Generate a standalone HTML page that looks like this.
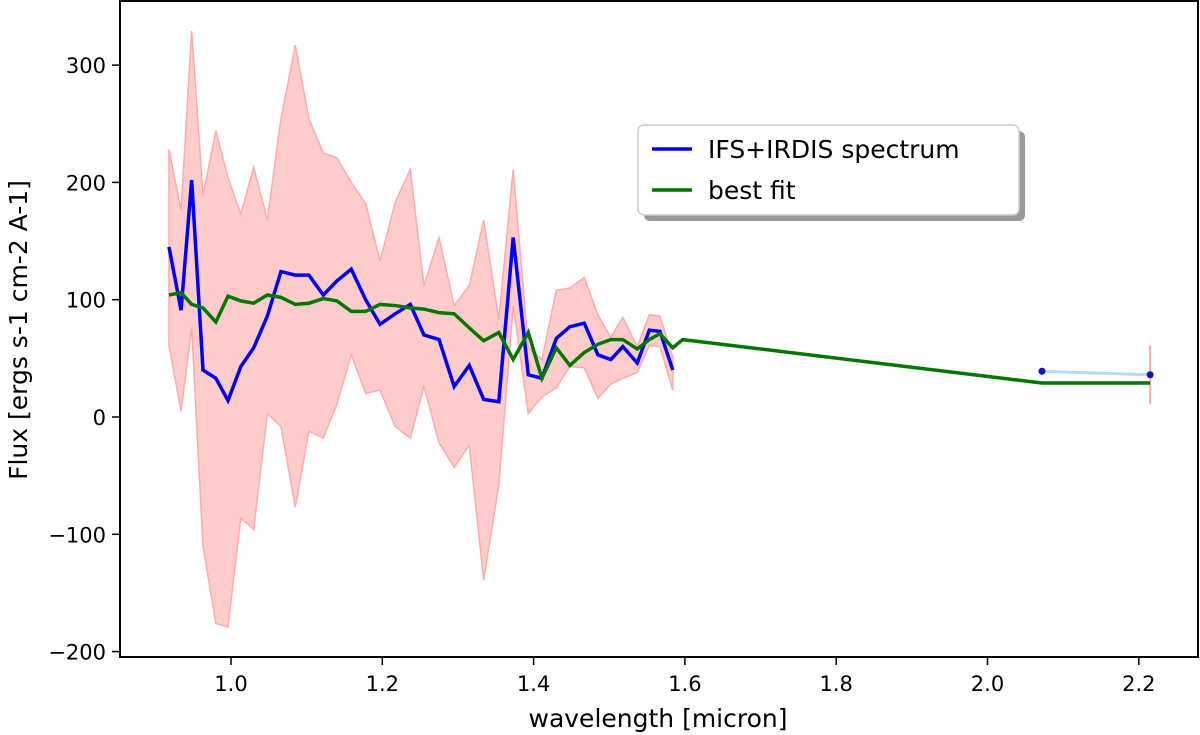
<!DOCTYPE html>
<html><head><meta charset="utf-8"><style>
body{margin:0;background:#fff;}
svg{display:block;font-family:"DejaVu Sans","Liberation Sans",sans-serif;}
</style></head><body>
<svg id="chart" width="1200" height="735"></svg>
<script>
const wavelength=[0.918,0.934,0.948,0.963,0.980,0.996,1.013,1.030,1.048,1.066,1.085,1.103,1.122,1.140,1.159,1.178,1.197,1.217,1.237,1.255,1.275,1.295,1.315,1.334,1.354,1.373,1.393,1.411,1.430,1.448,1.467,1.485,1.502,1.518,1.537,1.553,1.567,1.584];
const fluxObs=[145,91,202,40,33,14,43,59,86,124,121,121,104,116,126,100,79,88,96,70,66,26,44,15,13,153,36,33,67,77,80,53,49,60,46,74,73,40];
const fluxUpper=[228,176,329,189,244,204,173,213,168,254,317,254,225,221,200,182,133,183,211,112,153,95,112,168,83,211,60,49,108,110,119,87,68,85,60,87,86,51];
const fluxLower=[61,5,76,-110,-176,-179,-86,-96,3,-8,-77,-12,-18,11,53,20,23,-8,-18,26,-22,-43,-24,-139,-58,95,3,17,25,43,42,16,28,33,38,61,60,23];
const fitWl=[0.918,0.934,0.948,0.963,0.980,0.996,1.013,1.030,1.048,1.066,1.085,1.103,1.122,1.140,1.159,1.178,1.197,1.217,1.237,1.255,1.275,1.295,1.315,1.334,1.354,1.373,1.393,1.411,1.430,1.448,1.467,1.485,1.502,1.518,1.537,1.553,1.567,1.584,1.597,2.072,2.215];
const fitFlux=[104,106,96,93,81,103,99,97,104,102,96,97,101,99,90,90,96,95,93,92,89,88,76,65,72,49,72,33,59,44,55,62,66,66,58,66,71,59,66,29,29];
const photWl=[2.072,2.215];
const photFlux=[39,36];
const photErr=[3,25];
const xTicks=[1.0,1.2,1.4,1.6,1.8,2.0,2.2];
const yTicks=[-200,-100,0,100,200,300];

const NS="http://www.w3.org/2000/svg";
const svg=document.getElementById('chart');
const X=w=>231+(w-1)*756.5;
const Y=v=>417-v*1.173;
function mk(t,a,txt){const e=document.createElementNS(NS,t);for(const k in a)e.setAttribute(k,a[k]);if(txt!==undefined)e.textContent=txt;svg.appendChild(e);return e;}

// error band
let pts=wavelength.map((w,i)=>X(w)+','+Y(fluxUpper[i]));
for(let i=wavelength.length-1;i>=0;i--)pts.push(X(wavelength[i])+','+Y(fluxLower[i]));
let band=mk('polygon',{points:pts.join(' '),fill:'#ffcccc',stroke:'#ffaaaa','stroke-width':1.5});



// photometry
let pl=mk('polyline',{points:photWl.map((w,i)=>X(w)+','+Y(photFlux[i])).join(' '),fill:'none',stroke:'#bcd8f0','stroke-width':3});


photWl.forEach((w,i)=>{
 let eb=mk('line',{x1:X(w),x2:X(w),y1:Y(photFlux[i]+photErr[i]),y2:Y(photFlux[i]-photErr[i]),stroke:'#ffaaaa','stroke-width':2});
 
 
 let c=mk('circle',{cx:X(w),cy:Y(photFlux[i]),r:3.5,fill:'#1010cc'});
 
 
});

// spectrum
let sp=mk('polyline',{points:wavelength.map((w,i)=>X(w)+','+Y(fluxObs[i])).join(' '),fill:'none',stroke:'#0000ff','stroke-width':3.5,'stroke-linejoin':'miter'});


let fit=mk('polyline',{points:fitWl.map((w,i)=>X(w)+','+Y(fitFlux[i])).join(' '),fill:'none',stroke:'#007700','stroke-width':3.5});



// axes frame
let fr=mk('rect',{x:120,y:1,width:1078,height:656,fill:'none',stroke:'#000','stroke-width':2});


xTicks.forEach(t=>{
 let l=mk('line',{x1:X(t),x2:X(t),y1:657,y2:665,stroke:'#000','stroke-width':1.5});
 
 
 let tx=mk('text',{x:X(t),y:691,'text-anchor':'middle','font-size':21,fill:'#000'},t.toFixed(1));
 
 
});
yTicks.forEach(t=>{
 let l=mk('line',{x1:112,x2:120,y1:Y(t),y2:Y(t),stroke:'#000','stroke-width':1.5});
 
 
 let tx=mk('text',{x:106,y:Y(t)+8,'text-anchor':'end','font-size':21,fill:'#000'},t<0?'\u2212'+(-t):String(t));
 
 
});
let xt=mk('text',{x:658,y:727,'text-anchor':'middle','font-size':25,fill:'#000'},'wavelength [micron]');


let yt=mk('text',{x:0,y:0,'text-anchor':'middle','font-size':25,fill:'#000',transform:'translate(27,330) rotate(-90)'},'Flux [ergs s-1 cm-2 A-1]');



// legend
let sh=mk('rect',{x:644,y:131,width:381,height:90,rx:6,fill:'#999'});


let lg=mk('rect',{x:638,y:125,width:381,height:90,rx:6,fill:'#fff',stroke:'#ccc','stroke-width':1.5});


let l1=mk('line',{x1:652,x2:692,y1:149,y2:149,stroke:'#0000ff','stroke-width':3.5});


let t1=mk('text',{x:708,y:158,'font-size':25,fill:'#000'},'IFS+IRDIS spectrum');


let l2=mk('line',{x1:652,x2:692,y1:190,y2:190,stroke:'#007700','stroke-width':3.5});


let t2=mk('text',{x:708,y:199,'font-size':25,fill:'#000'},'best fit');


</script>
</body></html>
